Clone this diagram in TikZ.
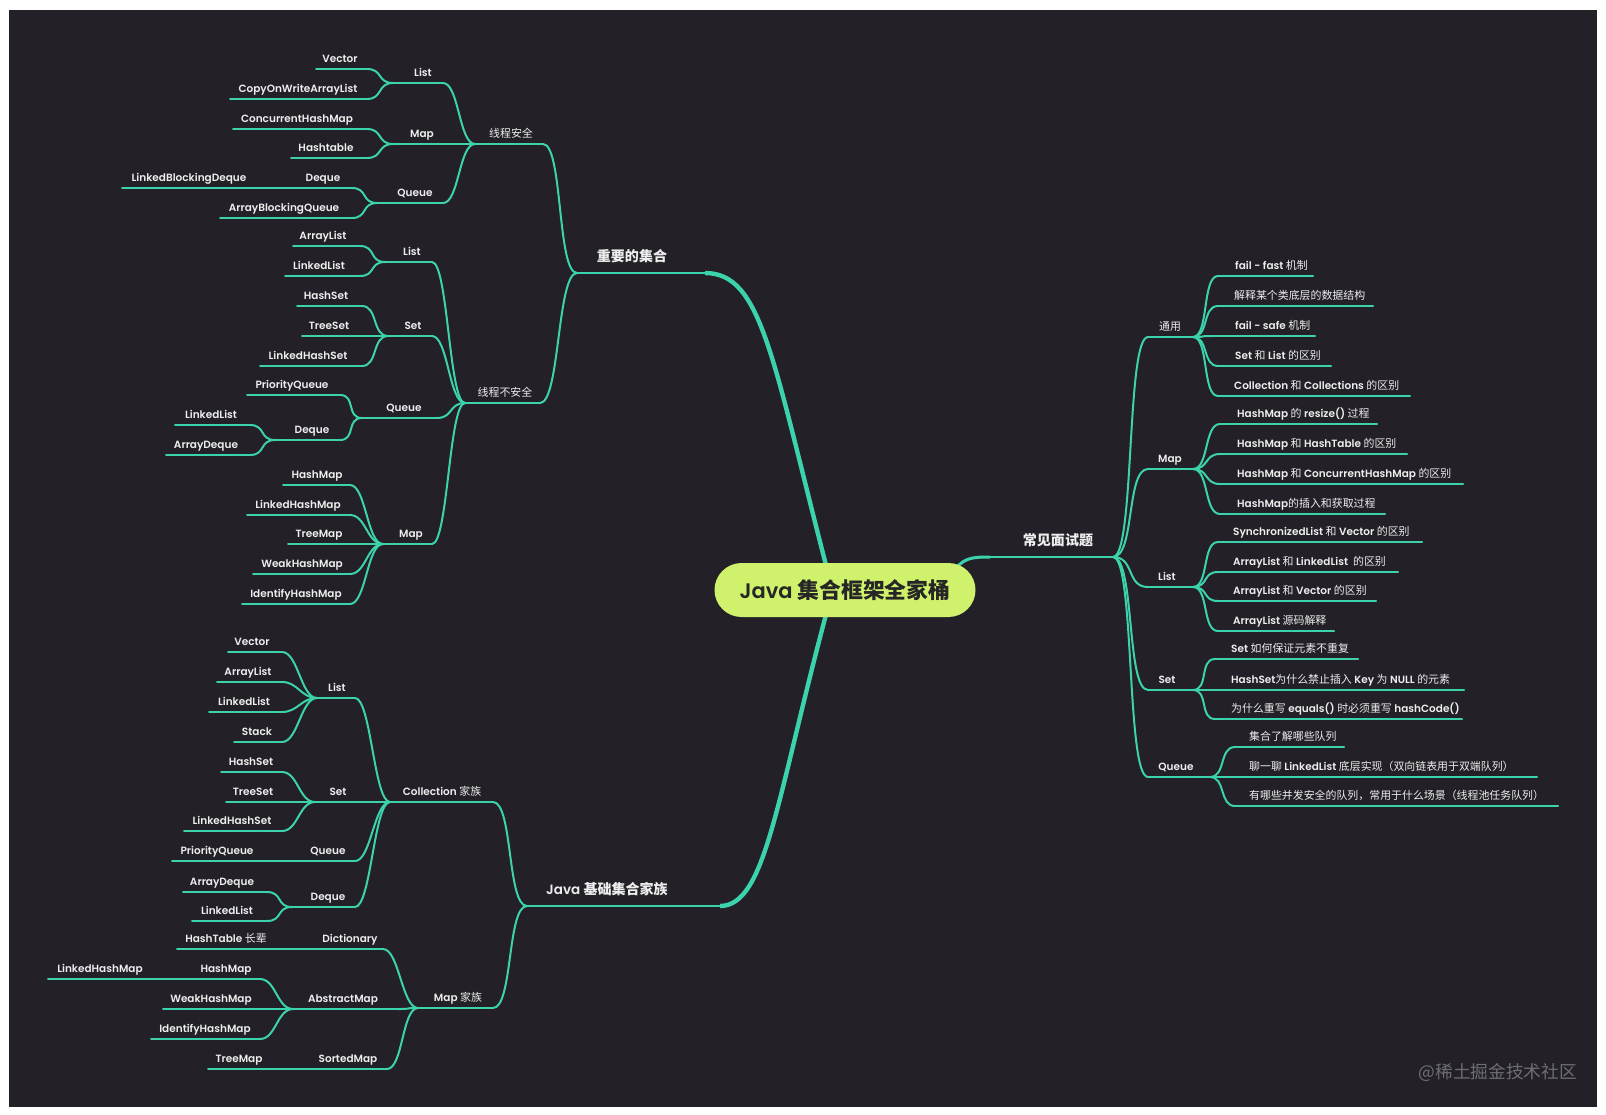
\documentclass[tikz,border=0pt]{standalone}
\usepackage{fontspec}
\setmainfont{Poppins}[BoldFont={Poppins SemiBold}]
\newfontfamily\zhfont{Noto Sans CJK SC}[Scale=1.04]
\usetikzlibrary{backgrounds}
\definecolor{board}{HTML}{232027}
\definecolor{branch}{HTML}{3CD3AC}
\definecolor{ink}{HTML}{EEEEEE}
\definecolor{hubfill}{HTML}{D0F16B}
\definecolor{wmark}{HTML}{6F6E74}

\newcommand{\hanzi}[1]{{\zhfont\mdseries #1}}
\newcommand{\hanzib}[1]{{\zhfont\bfseries #1}}

% topic = label sitting on its own underline
% \mmnode[kind]{name}{x left}{x right}{y}{x text}{text}
\newcommand{\mmnode}[7][leaf]{%
  \coordinate (#2-l) at (#3,-#5);
  \coordinate (#2-r) at (#4,-#5);
  \draw[#1 line] (#2-l) -- (#2-r);
  \node[#1 text] (#2) at (#6,-#5) {#7};}

\begin{document}
\begin{tikzpicture}[x=1pt, y=1pt, line cap=round,
  leaf line/.style={draw=branch, line width=2pt},
  right line/.style={leaf line},
  main line/.style={draw=branch, line width=2.6pt},
  leaf text/.style={anchor=base, yshift=7pt, inner sep=0pt, text=ink, font=\fontsize{10.5}{12}\selectfont\bfseries},
  right text/.style={leaf text, anchor=base west},
  main text/.style={anchor=base, yshift=12pt, inner sep=0pt, text=ink, font=\fontsize{13.5}{16}\selectfont\bfseries},
  twig/.style={draw=branch, line width=2pt, to path={.. controls +(#1,0) and +(-#1,0) .. (\tikztotarget)}},
  twig/.default=16,
  trunk/.style={draw=branch, line width=4.4pt},
  hub/.style={fill=hubfill, rounded corners=27pt, minimum width=261pt, minimum height=54pt, inner sep=0pt, text=black!85, font=\fontsize{21}{25}\selectfont\bfseries},
  wmark text/.style={anchor=east, inner sep=0pt, text=wmark, font=\zhfont\fontsize{17}{19}\selectfont}]
  \useasboundingbox (0,0) rectangle (1606,-1114);

  % ========================================================
  % 0. CENTRAL TOPIC
  % ========================================================
  \node[hub] (hub) at (845,-590) {Java \hanzib{集合框架全家桶}};
  \coordinate (hub-n) at ([xshift=-17pt,yshift=-10pt]hub.north);
  \coordinate (hub-s) at ([xshift=-17pt,yshift=10pt]hub.south);
  \coordinate (hub-e) at ([xshift=-25pt,yshift=-12pt]hub.north east);

  % ========================================================
  % 1. UPPER LEFT: IMPORTANT COLLECTIONS
  % ========================================================
  \mmnode[main]{imp}{577}{705}{273}{632}{\hanzib{重要的集合}}
  \mmnode{safe}{475}{543}{144}{511}{\hanzi{线程安全}}
  \mmnode{unsafe}{465}{540}{403}{505}{\hanzi{线程不安全}}

  % thread safe
  \mmnode{sList}{393}{443}{83}{423}{List}
  \mmnode{sMap}{393}{465}{144}{422}{Map}
  \mmnode{sQueue}{377}{443}{203}{415}{Queue}
  \mmnode{sVec}{316}{367}{69}{340}{Vector}
  \mmnode{sCow}{230}{367}{99}{298}{CopyOnWriteArrayList}
  \mmnode{sChm}{233}{367}{129}{297}{ConcurrentHashMap}
  \mmnode{sHt}{291}{367}{158}{326}{Hashtable}
  \mmnode{sDeq}{290}{352}{188}{323}{Deque}
  \mmnode{sAbq}{220}{352}{218}{284}{ArrayBlockingQueue}
  \mmnode{sLbd}{122}{268}{188}{189}{LinkedBlockingDeque}

  % thread unsafe
  \mmnode{uList}{385}{432}{262}{412}{List}
  \mmnode{uSet}{388}{432}{336}{413}{Set}
  \mmnode{uQueue}{362}{437}{418}{404}{Queue}
  \mmnode{uMap}{383}{432}{544}{411}{Map}
  \mmnode{uAl}{293}{360}{246}{323}{ArrayList}
  \mmnode{uLl}{285}{360}{276}{319}{LinkedList}
  \mmnode{uHs}{297}{362}{306}{326}{HashSet}
  \mmnode{uTs}{302}{368}{336}{329}{TreeSet}
  \mmnode{uLhs}{260}{362}{366}{308}{LinkedHashSet}
  \mmnode{uPq}{247}{340}{395}{292}{PriorityQueue}
  \mmnode{uDeq}{275}{340}{440}{312}{Deque}
  \mmnode{uLl2}{175}{250}{425}{211}{LinkedList}
  \mmnode{uAd}{166}{250}{455}{206}{ArrayDeque}
  \mmnode{uHm}{283}{350}{485}{317}{HashMap}
  \mmnode{uLhm}{247}{350}{515}{298}{LinkedHashMap}
  \mmnode{uTm}{288}{362}{544}{319}{TreeMap}
  \mmnode{uWhm}{253}{350}{574}{302}{WeakHashMap}
  \mmnode{uIhm}{242}{350}{604}{296}{IdentifyHashMap}

  \draw[twig=20] (safe-r) to (imp-l);
  \draw[twig=20] (unsafe-r) to (imp-l);
  \draw[twig] (sList-r) to (safe-l);
  \draw[twig] (sMap-r) to (safe-l);
  \draw[twig] (sQueue-r) to (safe-l);
  \draw[twig] (sVec-r) to (sList-l);
  \draw[twig] (sCow-r) to (sList-l);
  \draw[twig] (sChm-r) to (sMap-l);
  \draw[twig] (sHt-r) to (sMap-l);
  \draw[twig] (sDeq-r) to (sQueue-l);
  \draw[twig] (sAbq-r) to (sQueue-l);
  \draw[twig] (sLbd-r) to (sDeq-l);
  \draw[twig] (uList-r) to (unsafe-l);
  \draw[twig] (uSet-r) to (unsafe-l);
  \draw[twig] (uQueue-r) to (unsafe-l);
  \draw[twig] (uMap-r) to (unsafe-l);
  \draw[twig] (uAl-r) to (uList-l);
  \draw[twig] (uLl-r) to (uList-l);
  \draw[twig] (uHs-r) to (uSet-l);
  \draw[twig] (uTs-r) to (uSet-l);
  \draw[twig] (uLhs-r) to (uSet-l);
  \draw[twig] (uPq-r) to (uQueue-l);
  \draw[twig] (uDeq-r) to (uQueue-l);
  \draw[twig] (uLl2-r) to (uDeq-l);
  \draw[twig] (uAd-r) to (uDeq-l);
  \draw[twig] (uHm-r) to (uMap-l);
  \draw[twig] (uLhm-r) to (uMap-l);
  \draw[twig] (uTm-r) to (uMap-l);
  \draw[twig] (uWhm-r) to (uMap-l);
  \draw[twig] (uIhm-r) to (uMap-l);

  % ========================================================
  % 2. LOWER LEFT: BASIC COLLECTION FAMILY
  % ========================================================
  \mmnode[main]{basic}{527}{720}{906}{607}{Java \hanzib{基础集合家族}}
  \mmnode{coll}{390}{493}{802}{442}{Collection \hanzi{家族}}
  \mmnode{mapf}{418}{493}{1008}{458}{Map \hanzi{家族}}

  % collection family
  \mmnode{cList}{317}{355}{698}{337}{List}
  \mmnode{cSet}{315}{372}{802}{338}{Set}
  \mmnode{cQueue}{290}{355}{861}{328}{Queue}
  \mmnode{cDeq}{292}{355}{907}{328}{Deque}
  \mmnode{cVec}{228}{282}{652}{252}{Vector}
  \mmnode{cAl}{217}{282}{682}{248}{ArrayList}
  \mmnode{cLl}{209}{282}{712}{244}{LinkedList}
  \mmnode{cSt}{234}{282}{742}{257}{Stack}
  \mmnode{cHs}{221}{282}{772}{251}{HashSet}
  \mmnode{cTs}{226}{295}{802}{253}{TreeSet}
  \mmnode{cLhs}{184}{282}{831}{232}{LinkedHashSet}
  \mmnode{cPq}{172}{272}{861}{217}{PriorityQueue}
  \mmnode{cAd}{183}{267}{892}{222}{ArrayDeque}
  \mmnode{cLl2}{192}{267}{921}{227}{LinkedList}

  % map family
  \mmnode{mDict}{300}{383}{949}{350}{Dictionary}
  \mmnode{mAbs}{293}{398}{1009}{343}{AbstractMap}
  \mmnode{mSort}{300}{387}{1069}{348}{SortedMap}
  \mmnode{mHt}{177}{285}{949}{226}{HashTable \hanzi{长辈}}
  \mmnode{mHm}{190}{260}{979}{226}{HashMap}
  \mmnode{mWhm}{163}{272}{1009}{211}{WeakHashMap}
  \mmnode{mIhm}{151}{260}{1039}{205}{IdentifyHashMap}
  \mmnode{mLhm}{48}{178}{979}{100}{LinkedHashMap}
  \mmnode{mTm}{208}{288}{1069}{239}{TreeMap}

  \draw[twig=20] (coll-r) to (basic-l);
  \draw[twig=20] (mapf-r) to (basic-l);
  \draw[twig] (cList-r) to (coll-l);
  \draw[twig] (cSet-r) to (coll-l);
  \draw[twig] (cQueue-r) to (coll-l);
  \draw[twig] (cDeq-r) to (coll-l);
  \draw[twig] (cVec-r) to (cList-l);
  \draw[twig] (cAl-r) to (cList-l);
  \draw[twig] (cLl-r) to (cList-l);
  \draw[twig] (cSt-r) to (cList-l);
  \draw[twig] (cHs-r) to (cSet-l);
  \draw[twig] (cTs-r) to (cSet-l);
  \draw[twig] (cLhs-r) to (cSet-l);
  \draw[twig] (cPq-r) to (cQueue-l);
  \draw[twig] (cAd-r) to (cDeq-l);
  \draw[twig] (cLl2-r) to (cDeq-l);
  \draw[twig] (mDict-r) to (mapf-l);
  \draw[twig] (mAbs-r) to (mapf-l);
  \draw[twig] (mSort-r) to (mapf-l);
  \draw[twig] (mHt-r) to (mDict-l);
  \draw[twig] (mHm-r) to (mAbs-l);
  \draw[twig] (mWhm-r) to (mAbs-l);
  \draw[twig] (mIhm-r) to (mAbs-l);
  \draw[twig] (mLhm-r) to (mHm-l);
  \draw[twig] (mTm-r) to (mSort-l);

  % ========================================================
  % 3. RIGHT: COMMON INTERVIEW QUESTIONS
  % ========================================================
  \mmnode[main]{faq}{990}{1113}{557}{1058}{\hanzib{常见面试题}}
  \mmnode{qGen}{1148}{1193}{337}{1170}{\hanzi{通用}}
  \mmnode{qMap}{1148}{1193}{469}{1170}{Map}
  \mmnode{qList}{1148}{1193}{587}{1167}{List}
  \mmnode{qSet}{1148}{1193}{690}{1167}{Set}
  \mmnode{qQue}{1148}{1210}{777}{1176}{Queue}

  \mmnode[right]{g1}{1218}{1313}{276}{1235}{fail - fast \hanzi{机制}}
  \mmnode[right]{g2}{1218}{1373}{306}{1234}{\hanzi{解释某个类底层的数据结构}}
  \mmnode[right]{g3}{1212}{1315}{336}{1235}{fail - safe \hanzi{机制}}
  \mmnode[right]{g4}{1218}{1331}{366}{1235}{Set \hanzi{和} List \hanzi{的区别}}
  \mmnode[right]{g5}{1218}{1410}{396}{1234}{Collection \hanzi{和} Collections \hanzi{的区别}}
  \mmnode[right]{m1}{1220}{1377}{424}{1237}{HashMap \hanzi{的} resize() \hanzi{过程}}
  \mmnode[right]{m2}{1220}{1407}{454}{1237}{HashMap \hanzi{和} HashTable \hanzi{的区别}}
  \mmnode[right]{m3}{1220}{1463}{484}{1237}{HashMap \hanzi{和} ConcurrentHashMap \hanzi{的区别}}
  \mmnode[right]{m4}{1220}{1385}{514}{1237}{HashMap\hanzi{的插入和获取过程}}
  \mmnode[right]{l1}{1218}{1422}{542}{1233}{SynchronizedList \hanzi{和} Vector \hanzi{的区别}}
  \mmnode[right]{l2}{1218}{1398}{572}{1233}{ArrayList \hanzi{和} LinkedList\ \ \hanzi{的区别}}
  \mmnode[right]{l3}{1218}{1376}{601}{1233}{ArrayList \hanzi{和} Vector \hanzi{的区别}}
  \mmnode[right]{l4}{1218}{1334}{631}{1233}{ArrayList \hanzi{源码解释}}
  \mmnode[right]{t1}{1215}{1358}{659}{1231}{Set \hanzi{如何保证元素不重复}}
  \mmnode[right]{t2}{1212}{1464}{690}{1231}{HashSet\hanzi{为什么禁止插入} Key \hanzi{为} NULL \hanzi{的元素}}
  \mmnode[right]{t3}{1215}{1462}{719}{1231}{\hanzi{为什么重写} equals() \hanzi{时必须重写} hashCode()}
  \mmnode[right]{e1}{1235}{1344}{747}{1249}{\hanzi{集合了解哪些队列}}
  \mmnode[right]{e2}{1230}{1537}{777}{1249}{\hanzi{聊一聊} LinkedList \hanzi{底层实现（双向链表用于双端队列）}}
  \mmnode[right]{e3}{1235}{1558}{806}{1249}{\hanzi{有哪些并发安全的队列，常用于什么场景（线程池任务队列）}}

  \draw[twig=22] (faq-r) to (qGen-l);
  \draw[twig=22] (faq-r) to (qMap-l);
  \draw[twig=22] (faq-r) to (qList-l);
  \draw[twig=22] (faq-r) to (qSet-l);
  \draw[twig=22] (faq-r) to (qQue-l);
  \draw[twig] (qGen-r) to (g1-l);
  \draw[twig] (qGen-r) to (g2-l);
  \draw[twig] (qGen-r) to (g3-l);
  \draw[twig] (qGen-r) to (g4-l);
  \draw[twig] (qGen-r) to (g5-l);
  \draw[twig] (qMap-r) to (m1-l);
  \draw[twig] (qMap-r) to (m2-l);
  \draw[twig] (qMap-r) to (m3-l);
  \draw[twig] (qMap-r) to (m4-l);
  \draw[twig] (qList-r) to (l1-l);
  \draw[twig] (qList-r) to (l2-l);
  \draw[twig] (qList-r) to (l3-l);
  \draw[twig] (qList-r) to (l4-l);
  \draw[twig] (qSet-r) to (t1-l);
  \draw[twig] (qSet-r) to (t2-l);
  \draw[twig] (qSet-r) to (t3-l);
  \draw[twig] (qQue-r) to (e1-l);
  \draw[twig] (qQue-r) to (e2-l);
  \draw[twig] (qQue-r) to (e3-l);

  % ========================================================
  % 4. BOARD AND TRUNKS (behind everything)
  % ========================================================
  \begin{scope}[on background layer]
    \fill[white] (0,0) rectangle (1606,-1114);
    \fill[board] (9,-10) rectangle (1597,-1107);
    \draw[trunk] (hub-n) .. controls +(-56,215) and +(57,0) .. (imp-r);
    \draw[trunk] (hub-s) .. controls +(-52,-193) and +(46,0) .. (basic-r);
    \draw[trunk, line width=3pt] (hub-e) .. controls +(12,17) and +(-20,0) .. (faq-l);
  \end{scope}

  % watermark
  \node[wmark text] (mark) at (1577,-1073) {@稀土掘金技术社区};

\end{tikzpicture}
\end{document}
